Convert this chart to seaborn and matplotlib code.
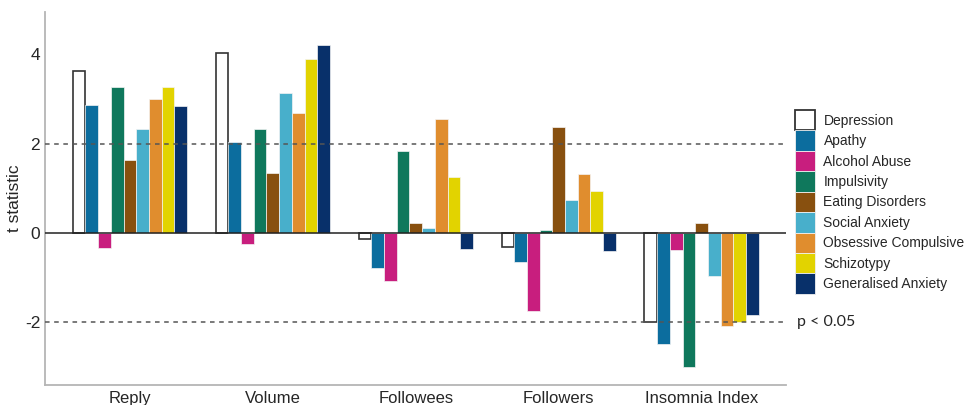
import matplotlib
matplotlib.use("Agg")
import matplotlib.pyplot as plt
import matplotlib.patches as mpatches
import pandas as pd
import seaborn as sns

# Outcome measures on the x axis
measures = ["Reply", "Volume", "Followees", "Followers", "Insomnia Index"]

# Psychiatric symptom scales (hue levels)
scales = ["Depression", "Apathy", "Alcohol Abuse", "Impulsivity", "Eating Disorders",
          "Social Anxiety", "Obsessive Compulsive", "Schizotypy", "Generalised Anxiety"]

# t statistics per scale, one value for each measure
depression = [3.63, 4.04, -0.13, -0.32, -2.00]
apathy = [2.86, 2.03, -0.79, -0.65, -2.50]
alcohol_abuse = [-0.35, -0.26, -1.07, -1.76, -0.39]
impulsivity = [3.27, 2.33, 1.84, 0.07, -3.00]
eating_disorders = [1.63, 1.34, 0.21, 2.38, 0.21]
social_anxiety = [2.32, 3.14, 0.11, 0.73, -0.96]
obsessive_compulsive = [2.99, 2.68, 2.55, 1.33, -2.08]
schizotypy = [3.27, 3.89, 1.25, 0.93, -1.99]
generalised_anxiety = [2.84, 4.20, -0.37, -0.41, -1.84]

colors = ["#ffffff", "#0c6d9e", "#c81e7e", "#0f785c", "#88500f",
          "#48afcb", "#e08d2e", "#e2d300", "#08306a"]

series = [depression, apathy, alcohol_abuse, impulsivity, eating_disorders,
          social_anxiety, obsessive_compulsive, schizotypy, generalised_anxiety]
rows = []
for scale, vals in zip(scales, series):
    for m, v in zip(measures, vals):
        rows.append({"measure": m, "scale": scale, "t": v})
df = pd.DataFrame(rows)

sns.set_style("white")
plt.rcParams["font.family"] = ["Liberation Sans", "DejaVu Sans"]

fig = plt.figure(figsize=(9.67, 4.05), dpi=100)
ax = fig.add_axes([45 / 967, 20 / 405, (786 - 45) / 967, (393 - 20) / 405])

sns.barplot(data=df, x="measure", y="t", hue="scale", order=measures,
            hue_order=scales, palette=colors, saturation=1, width=0.8, ax=ax,
            edgecolor="#f4f4f4", linewidth=0.5, legend=False)

# Outline the Depression bars
for bar in ax.containers[0]:
    bar.set_edgecolor("#333333")
    bar.set_linewidth(1.2)

ax.set_xlim(-0.594, 4.59)
ax.set_ylim(-3.41, 4.95)

ax.axhline(0, color="#222222", lw=1.1, zorder=3)
for yv in (2, -2):
    ax.axhline(yv, color="#555555", lw=1.1, ls=(0, (3, 3)), zorder=4)

ax.set_yticks([-2, 0, 2, 4])
ax.set_yticklabels(["-2", "0", "2", "4"])
ax.tick_params(axis="y", length=0, labelsize=12.5, pad=3.5)
ax.tick_params(axis="x", length=3, color="#aaaaaa", labelsize=12, pad=1)
ax.set_xlabel("")
ax.set_ylabel("t statistic", fontsize=12.5, labelpad=2)

for side in ("top", "right"):
    ax.spines[side].set_visible(False)
for side in ("left", "bottom"):
    ax.spines[side].set_color("#b5b5b5")
    ax.spines[side].set_linewidth(1.3)

# Significance threshold label
ax.annotate("p < 0.05", xy=(1.0, -2), xycoords=("axes fraction", "data"),
            xytext=(8, 0), textcoords="offset points", va="center", ha="left",
            fontsize=11.5, family=["Lato", "DejaVu Sans"])

handles = []
for scale, c in zip(scales, colors):
    if scale == "Depression":
        handles.append(mpatches.Patch(facecolor=c, edgecolor="#333333", linewidth=1.3, label=scale))
    else:
        handles.append(mpatches.Patch(facecolor=c, edgecolor="#f0f0f0", linewidth=0.6, label=scale))
fig.legend(handles=handles, loc="upper left", bbox_to_anchor=(795 / 967, (405 - 110) / 405),
           frameon=False, fontsize=10, handlelength=1.45, handleheight=1.885,
           labelspacing=0.0, handletextpad=0.6, borderpad=0, borderaxespad=0)

fig.savefig("out.png", dpi=100)
